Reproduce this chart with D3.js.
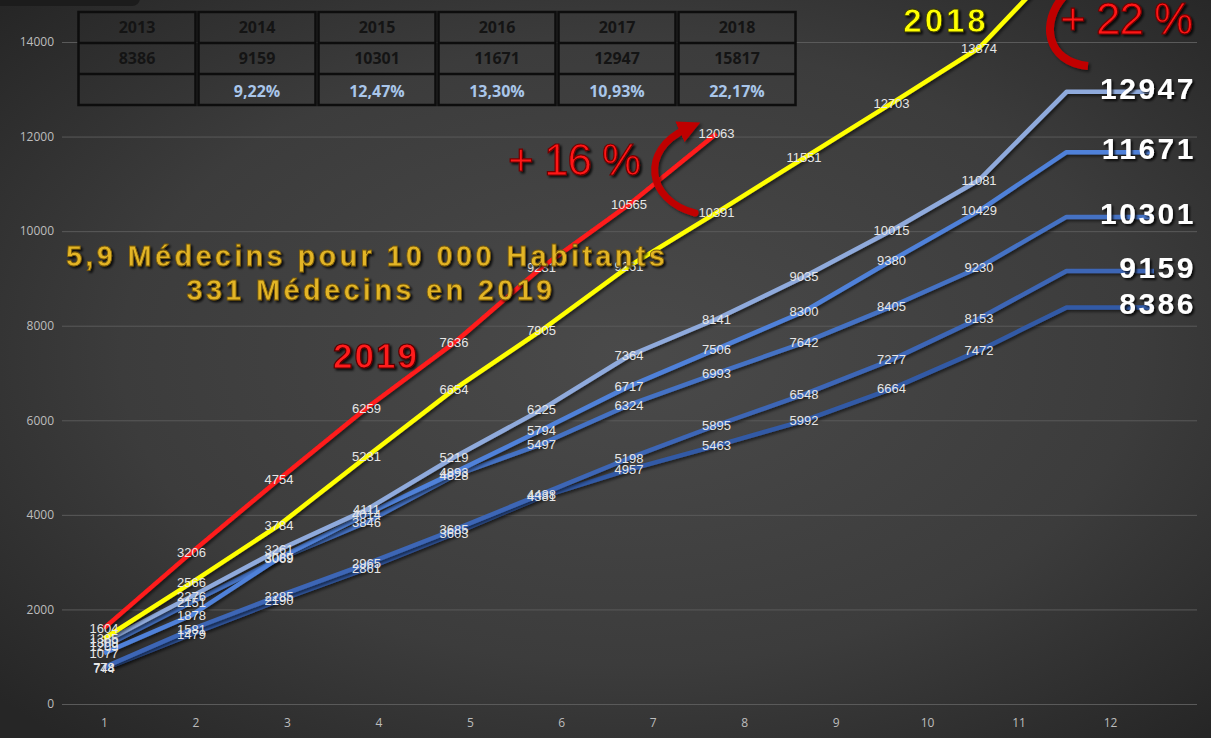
<!DOCTYPE html>
<html>
<head>
<meta charset="utf-8">
<script src="https://cdn.jsdelivr.net/npm/d3@7"></script>
<style>
  body { margin: 0; background: #2b2b2b; overflow: hidden; }
  svg { display: block; }
</style>
</head>
<body>
<script>
// ---- data ----
const months = [1, 2, 3, 4, 5, 6, 7, 8, 9, 10, 11, 12];
const yTicks = [0, 2000, 4000, 6000, 8000, 10000, 12000, 14000];

const v2013 = [744, 1479, 2190, 2861, 3603, 4381, 4957, 5463, 5992, 6664, 7472, 8386];
const v2014 = [778, 1581, 2285, 2965, 3685, 4438, 5198, 5895, 6548, 7277, 8153, 9159];
const v2015 = [1209, 2151, 3069, 3846, 4828, 5497, 6324, 6993, 7642, 8405, 9230, 10301];
const v2016 = [1077, 1878, 3089, 4014, 4893, 5794, 6717, 7506, 8300, 9380, 10429, 11671];
const v2017 = [1309, 2276, 3261, 4111, 5219, 6225, 7364, 8141, 9035, 10015, 11081, 12947];
const v2018 = [1385, 2566, 3784, 5231, 6654, 7905, 9261, 10391, 11551, 12703, 13874, 15817];
const v2019 = [1604, 3206, 4754, 6259, 7636, 9231, 10565, 12063];

const tableYears = ['2013', '2014', '2015', '2016', '2017', '2018'];
const tableTotals = ['8386', '9159', '10301', '11671', '12947', '15817'];
const tableGrowth = ['', '9,22%', '12,47%', '13,30%', '10,93%', '22,17%'];

const W = 1211, H = 738;

const svg = d3.select('body').append('svg')
  .attr('width', W)
  .attr('height', H);

const defs = svg.append('defs');
const bg = defs.append('radialGradient').attr('id', 'bg')
  .attr('cx', '52%').attr('cy', '48%').attr('r', '70%');
bg.append('stop').attr('offset', '0%').attr('stop-color', '#4a4a4a');
bg.append('stop').attr('offset', '60%').attr('stop-color', '#3c3c3c');
bg.append('stop').attr('offset', '100%').attr('stop-color', '#262626');

const sh = defs.append('filter').attr('id', 'shadow')
  .attr('x', '-10%').attr('y', '-10%').attr('width', '130%').attr('height', '130%');
sh.append('feDropShadow').attr('dx', 2).attr('dy', 2).attr('stdDeviation', 1.5)
  .attr('flood-color', '#000').attr('flood-opacity', 0.55);

const tsh = defs.append('filter').attr('id', 'tshadow')
  .attr('x', '-10%').attr('y', '-20%').attr('width', '130%').attr('height', '150%');
tsh.append('feDropShadow').attr('dx', 2).attr('dy', 2).attr('stdDeviation', 1.2)
  .attr('flood-color', '#000').attr('flood-opacity', 0.8);

defs.append('marker').attr('id', 'arrow')
  .attr('viewBox', '0 0 10 10').attr('refX', 3).attr('refY', 5)
  .attr('markerWidth', 3.2).attr('markerHeight', 3.2).attr('orient', 'auto')
  .append('path').attr('d', 'M0,0 L10,5 L0,10 Z').attr('fill', '#c00000');

svg.append('rect').attr('width', W).attr('height', H).attr('fill', 'url(#bg)');
svg.append('rect').attr('x', -10).attr('y', -10).attr('width', 150).attr('height', 16)
  .attr('rx', 8).attr('fill', '#1c1c1c');

// ---- scales ----
const y = d3.scaleLinear().domain([0, 14000]).range([704, 42]);
const xPts = d3.scalePoint().domain(months).range([104, 1066.5]);
const xLab = d3.scalePoint().domain(months).range([104, 1110]);

// gridlines
svg.append('g')
  .attr('transform', 'translate(62,0)')
  .call(d3.axisLeft(y).tickValues(yTicks).tickSize(-1135).tickFormat(''))
  .call(g => g.select('.domain').remove())
  .call(g => g.selectAll('line').attr('stroke', '#5a5a5a').attr('stroke-width', 1));

// y labels
svg.append('g')
  .attr('transform', 'translate(54,0)')
  .call(d3.axisLeft(y).tickValues(yTicks).tickSize(0).tickPadding(0).tickFormat(d3.format('d')))
  .call(g => g.select('.domain').remove())
  .call(g => g.selectAll('text').attr('fill', '#bdbdbd')
    .style('font-family', '"Open Sans", sans-serif').style('font-size', '12px'));

// x labels
svg.append('g')
  .attr('transform', 'translate(0,704)')
  .call(d3.axisBottom(xLab).tickSize(0).tickPadding(14))
  .call(g => g.select('.domain').remove())
  .call(g => g.selectAll('text').attr('fill', '#bdbdbd')
    .style('font-family', '"Open Sans", sans-serif').style('font-size', '12px'));

// ---- lines ----
const line = d3.line()
  .x((d, i) => xPts(months[i]))
  .y(d => y(d));

const blues = [
  { vals: v2013, color: '#335aa6' },
  { vals: v2014, color: '#3c66b6' },
  { vals: v2015, color: '#4472c4' },
  { vals: v2016, color: '#4f81d9' },
  { vals: v2017, color: '#8faadc' }
];

const lines = svg.append('g');
blues.forEach(s => {
  const last = s.vals[s.vals.length - 1];
  lines.append('path')
    .attr('d', line(s.vals) + 'L' + (xPts(12) + xPts.step()) + ',' + y(last))
    .attr('fill', 'none').attr('stroke', s.color).attr('stroke-width', 4.5)
    .attr('stroke-linejoin', 'round').attr('filter', 'url(#shadow)');
});
lines.append('path').attr('d', line(v2018))
  .attr('fill', 'none').attr('stroke', '#ffff00').attr('stroke-width', 4.5)
  .attr('filter', 'url(#shadow)');
lines.append('path').attr('d', line(v2019))
  .attr('fill', 'none').attr('stroke', '#ff1a1a').attr('stroke-width', 4.5)
  .attr('filter', 'url(#shadow)');

// ---- small data labels ----
const labels = svg.append('g')
  .style('font-family', '"Liberation Sans", Arial, sans-serif')
  .style('font-size', '13px')
  .attr('fill', '#e6e6e6')
  .attr('text-anchor', 'middle');

[v2013, v2014, v2015, v2016, v2017, v2018, v2019].forEach(vals => {
  vals.slice(0, 11).forEach((v, i) => {
    labels.append('text')
      .attr('x', xPts(months[i]))
      .attr('y', y(v))
      .attr('dy', '0.35em')
      .text(v);
  });
});

// ---- big end labels ----
const big = svg.append('g')
  .style('font-family', '"Liberation Sans", Arial, sans-serif')
  .style('font-weight', 'bold')
  .style('font-size', '30px')
  .style('letter-spacing', '2.5px')
  .attr('text-anchor', 'end')
  .attr('fill', '#ffffff')
  .attr('filter', 'url(#tshadow)');
blues.forEach(s => {
  const last = s.vals[s.vals.length - 1];
  big.append('text').attr('x', 1196).attr('y', y(last) + 7).text(last);
});

// ---- table ----
const table = svg.append('g')
  .style('font-family', '"Open Sans", sans-serif')
  .style('font-weight', 'bold')
  .style('font-size', '16px')
  .attr('text-anchor', 'middle');
const colW = 120, tx = 77, rowY = [12, 43, 74, 105];
tableYears.forEach((yr, i) => {
  const cx = tx + i * colW;
  table.append('rect').attr('x', cx + 1.5).attr('y', rowY[0])
    .attr('width', colW - 3).attr('height', rowY[3] - rowY[0])
    .attr('fill', 'none').attr('stroke', '#0d0d0d').attr('stroke-width', 2.5);
  [rowY[1], rowY[2]].forEach(ry => {
    table.append('line').attr('x1', cx + 1.5).attr('x2', cx + colW - 1.5)
      .attr('y1', ry).attr('y2', ry).attr('stroke', '#0d0d0d').attr('stroke-width', 2.5);
  });
  table.append('text').attr('x', cx + colW / 2).attr('y', 33).attr('fill', '#141414').text(yr);
  table.append('text').attr('x', cx + colW / 2).attr('y', 64).attr('fill', '#141414').text(tableTotals[i]);
  table.append('text').attr('x', cx + colW / 2).attr('y', 97).attr('fill', '#a9c6ea').text(tableGrowth[i]);
});

// ---- annotations ----
const gold = svg.append('g')
  .style('font-family', '"Liberation Sans", Arial, sans-serif')
  .style('font-weight', 'bold')
  .style('font-size', '29px')
  .style('letter-spacing', '3.3px')
  .attr('text-anchor', 'middle')
  .attr('fill', '#e3b526')
  .attr('stroke', '#7a5b0c').attr('stroke-width', 0.8)
  .attr('filter', 'url(#tshadow)');
gold.append('text').attr('x', 367).attr('y', 266).text('5,9 Médecins pour 10 000 Habitants');
gold.append('text').attr('x', 371).attr('y', 300).text('331 Médecins en 2019');

svg.append('text').attr('x', 376).attr('y', 368)
  .attr('text-anchor', 'middle')
  .style('font-family', '"Liberation Sans", Arial, sans-serif')
  .style('font-weight', 'bold').style('font-size', '35px').style('letter-spacing', '2px')
  .attr('fill', '#ff1a1a').attr('stroke', '#5a0000').attr('stroke-width', 1.2)
  .attr('filter', 'url(#tshadow)')
  .text('2019');

svg.append('text').attr('x', 946).attr('y', 32)
  .attr('text-anchor', 'middle')
  .style('font-family', '"Liberation Sans", Arial, sans-serif')
  .style('font-weight', 'bold').style('font-size', '33px').style('letter-spacing', '3px')
  .attr('fill', '#ffff00').attr('stroke', '#3a3a00').attr('stroke-width', 0.8)
  .attr('filter', 'url(#tshadow)')
  .text('2018');

const pct = [
  { text: '+ 22 %', x: 1060, y: 34 },
  { text: '+ 16 %', x: 508, y: 175 }
];
pct.forEach(p => {
  svg.append('text').attr('x', p.x).attr('y', p.y)
    .style('font-family', '"Liberation Sans", Arial, sans-serif')
    .style('font-size', '44px').style('letter-spacing', '-1px')
    .attr('fill', '#ff1414').attr('stroke', '#700000').attr('stroke-width', 1.2)
    .attr('filter', 'url(#tshadow)')
    .text(p.text);
});

// curved arrows
svg.append('path')
  .attr('d', 'M 695 213 C 646 200, 640 150, 686 129')
  .attr('fill', 'none').attr('stroke', '#c00000').attr('stroke-width', 7)
  .attr('stroke-linecap', 'round').attr('marker-end', 'url(#arrow)')
  .attr('filter', 'url(#shadow)');
svg.append('path')
  .attr('d', 'M 1064 -4 C 1040 22, 1046 62, 1088 66')
  .attr('fill', 'none').attr('stroke', '#c00000').attr('stroke-width', 8)
  .attr('stroke-linecap', 'butt')
  .attr('filter', 'url(#shadow)');
</script>
</body>
</html>
